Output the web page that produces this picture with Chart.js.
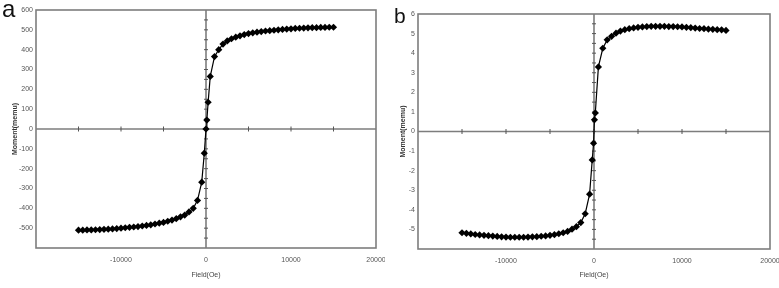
<!DOCTYPE html>
<html><head><meta charset="utf-8">
<script src="https://cdn.jsdelivr.net/npm/chart.js@4/dist/chart.umd.min.js"></script>
<style>
html,body{margin:0;padding:0;background:#fff;}
#wrap{position:relative;width:779px;height:288px;overflow:hidden;background:#fff;}
canvas{position:absolute;top:0;}
.lbl{position:absolute;font-family:"Liberation Sans",Arial,sans-serif;color:#111;line-height:1;}
</style></head><body>
<div id="wrap">
<canvas id="ca" width="385" height="288" style="left:0"></canvas>
<canvas id="cb" width="394" height="288" style="left:385px"></canvas>
<div class="lbl" style="left:2px;top:-3px;font-size:24px">a</div>
<div class="lbl" style="left:394px;top:5px;font-size:21px">b</div>
</div>
<script>
// Panel a data: applied field (Oe) and moment (memu)
const fieldA = [-15000,-14500,-14000,-13500,-13000,-12500,-12000,-11500,-11000,-10500,-10000,-9500,-9000,-8500,-8000,-7500,-7000,-6500,-6000,-5500,-5000,-4500,-4000,-3500,-3000,-2500,-2000,-1500,-1000,-500,-200,0,100,250,500,1000,1500,2000,2500,3000,3500,4000,4500,5000,5500,6000,6500,7000,7500,8000,8500,9000,9500,10000,10500,11000,11500,12000,12500,13000,13500,14000,14500,15000];
const momentA = [-510,-510,-509,-509,-508,-507,-506,-505,-504,-502,-500,-498,-496,-494,-492,-489,-486,-483,-479,-475,-471,-465,-459,-452,-443,-434,-418,-400,-360,-268,-122,0,45,135,265,365,400,428,444,455,463,470,476,481,485,488,491,494,496,498,500,502,504,505,507,508,509,510,511,511,512,512,513,513];
// Panel b data: applied field (Oe) and moment (emu)
const fieldB = [-15000,-14500,-14000,-13500,-13000,-12500,-12000,-11500,-11000,-10500,-10000,-9500,-9000,-8500,-8000,-7500,-7000,-6500,-6000,-5500,-5000,-4500,-4000,-3500,-3000,-2500,-2000,-1500,-1000,-500,-200,-50,50,150,500,1000,1500,2000,2500,3000,3500,4000,4500,5000,5500,6000,6500,7000,7500,8000,8500,9000,9500,10000,10500,11000,11500,12000,12500,13000,13500,14000,14500,15000];
const momentB = [-5.17,-5.20,-5.23,-5.26,-5.28,-5.30,-5.32,-5.34,-5.36,-5.38,-5.39,-5.40,-5.40,-5.40,-5.40,-5.39,-5.38,-5.37,-5.35,-5.33,-5.30,-5.27,-5.22,-5.17,-5.10,-4.99,-4.86,-4.65,-4.20,-3.20,-1.45,-0.60,0.60,0.95,3.30,4.25,4.68,4.86,5.02,5.13,5.20,5.25,5.29,5.32,5.34,5.36,5.37,5.37,5.37,5.37,5.36,5.36,5.35,5.34,5.32,5.30,5.28,5.26,5.25,5.23,5.22,5.20,5.19,5.16];
// Axis tick settings
const xTicks = {min:-20000, max:20000, step:10000, minor:5000};
const yTicksA = {min:-600, max:600, step:100, minor:50};
const yTicksB = {min:-6, max:6, step:1, minor:0.5};

const FONT = '"Liberation Sans", Arial, sans-serif';

const zeroAxes = {
  id: 'zeroAxes',
  beforeDatasetsDraw(chart, args, o) {
    const {ctx, chartArea: ca, scales: {x, y}} = chart;
    ctx.save();
    ctx.strokeStyle = o.color;
    ctx.lineWidth = o.width;
    ctx.strokeRect(ca.left, ca.top, ca.right - ca.left, ca.bottom - ca.top);
    const x0 = x.getPixelForValue(0), y0 = y.getPixelForValue(0);
    ctx.beginPath();
    ctx.moveTo(ca.left, y0); ctx.lineTo(ca.right, y0);
    ctx.moveTo(x0, ca.top); ctx.lineTo(x0, ca.bottom);
    ctx.stroke();
    ctx.lineWidth = 1;
    ctx.strokeStyle = o.tickColor;
    ctx.beginPath();
    const nx = Math.round((x.max - x.min) / o.xMinor);
    for (let i = 1; i < nx; i++) {
      const px = x.getPixelForValue(x.min + i * o.xMinor);
      ctx.moveTo(px, y0 - 2.5); ctx.lineTo(px, y0 + 2.5);
    }
    const ny = Math.round((y.max - y.min) / o.yMinor);
    for (let i = 1; i < ny; i++) {
      const py = y.getPixelForValue(y.min + i * o.yMinor);
      ctx.moveTo(x0 - 2, py); ctx.lineTo(x0 + 2, py);
    }
    ctx.stroke();
    ctx.restore();
  }
};

function makeChart(id, fields, moments, yT, geo) {
  const pts = fields.map((f, i) => ({x: f, y: moments[i]}));
  return new Chart(document.getElementById(id), {
    type: 'scatter',
    data: {datasets: [{
      data: pts, showLine: true, borderColor: '#000', borderWidth: 1.2,
      backgroundColor: '#000', pointStyle: 'rectRot', pointRadius: 3.6,
      pointBorderWidth: 0, tension: 0
    }]},
    options: {
      responsive: false, animation: false, devicePixelRatio: 1,
      layout: {padding: {left: 0, top: geo.top, right: geo.right, bottom: 0}},
      plugins: {legend: {display: false}, tooltip: {enabled: false},
        zeroAxes: {color: '#7d7d7d', width: 1.6, tickColor: '#555', xMinor: xTicks.minor, yMinor: yT.minor}},
      scales: {
        x: {type: 'linear', min: xTicks.min, max: xTicks.max,
          afterFit(s) { s.height = geo.xh; s.paddingLeft = 0; s.paddingRight = 0; },
          grid: {display: false, drawTicks: false}, border: {display: false},
          ticks: {stepSize: xTicks.step, padding: 8, color: '#555', autoSkip: false, maxRotation: 0,
            font: {family: FONT, size: 7},
            callback: v => v === xTicks.min ? '' : String(v)},
          title: {display: true, text: 'Field(Oe)', color: '#444',
            font: {family: FONT, size: 7}, padding: {top: 0, bottom: 9}}
        },
        y: {type: 'linear', min: yT.min, max: yT.max,
          afterFit(s) { s.width = geo.yw; s.paddingTop = 0; s.paddingBottom = 0; },
          grid: {display: false, drawTicks: false}, border: {display: false},
          ticks: {stepSize: yT.step, padding: 3, color: '#555', autoSkip: false,
            font: {family: FONT, size: 7},
            callback: v => v === yT.min ? '' : String(v)},
          title: {display: true, text: 'Moment(memu)', color: '#333',
            font: {family: FONT, size: 7, weight: 'bold'}, padding: {top: geo.tp, bottom: 0}}
        }
      }
    },
    plugins: [zeroAxes]
  });
}

makeChart('ca', fieldA, momentA, yTicksA, {top: 10, right: 9, xh: 40, yw: 36, tp: 11});
makeChart('cb', fieldB, momentB, yTicksB, {top: 14, right: 9, xh: 39, yw: 33, tp: 14});
</script>
</body></html>
